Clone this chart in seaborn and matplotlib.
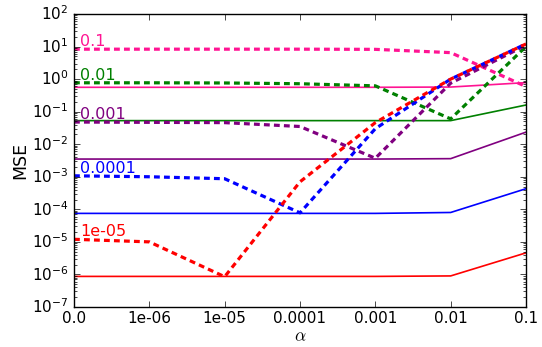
import numpy as np
import seaborn as sns
import matplotlib
matplotlib.use("Agg")
import matplotlib.pyplot as plt
from matplotlib.ticker import LogLocator, LogFormatterSciNotation

# --- DATA ---
alpha_labels = ['0.0', '1e-06', '1e-05', '0.0001', '0.001', '0.01', '0.1']
noise_labels = ['0.1', '0.01', '0.001', '0.0001', '1e-05']
colors = ['#ff1493', 'green', 'purple', 'blue', 'red']

solid_0_1 = [0.56, 0.56, 0.56, 0.56, 0.56, 0.57, 0.78]
dashed_0_1 = [8.3, 8.3, 8.3, 8.3, 8.2, 6.5, 0.59]
solid_0_01 = [0.053, 0.053, 0.053, 0.053, 0.053, 0.053, 0.16]
dashed_0_01 = [0.77, 0.77, 0.76, 0.72, 0.62, 0.06, 10.0]
solid_0_001 = [0.0035, 0.0035, 0.0035, 0.0035, 0.0035, 0.0036, 0.0235]
dashed_0_001 = [0.048, 0.047, 0.046, 0.035, 0.0037, 0.75, 11.0]
solid_1e4 = [7.5e-5, 7.5e-5, 7.5e-5, 7.5e-5, 7.5e-5, 8.0e-5, 4.3e-4]
dashed_1e4 = [1.07e-3, 1.0e-3, 8.7e-4, 7.8e-5, 0.03, 1.0, 12.0]
solid_1e5 = [8.7e-7, 8.7e-7, 8.7e-7, 8.7e-7, 8.7e-7, 9.0e-7, 4.6e-6]
dashed_1e5 = [1.2e-5, 1.0e-5, 8.5e-7, 7.0e-4, 0.046, 1.0, 12.0]

solid_series = [solid_0_1, solid_0_01, solid_0_001, solid_1e4, solid_1e5]
dashed_series = [dashed_0_1, dashed_0_01, dashed_0_001, dashed_1e4, dashed_1e5]

# --- STYLE ---
plt.style.use('classic')
plt.rcParams['font.size'] = 11
plt.rcParams['figure.facecolor'] = 'white'
plt.rcParams['savefig.facecolor'] = 'white'

pos = np.arange(len(alpha_labels))

fig = plt.figure(figsize=(5.42, 3.47), dpi=100)
ax = fig.add_axes([0.1365, 0.1153, 0.834, 0.8444])

for lab, c, sol, das in zip(noise_labels, colors, solid_series, dashed_series):
    sns.lineplot(x=pos, y=sol, ax=ax, color=c, linewidth=1.2)
    sns.lineplot(x=pos, y=das, ax=ax, color=c, linewidth=2.3)
    ax.lines[-1].set_dashes((4.2, 3.0))
    ax.text(0.08, das[0], lab, color=c, fontsize=11.5, ha='left', va='bottom')

ax.set_yscale('log')
ax.set_ylim(1e-7, 1e2)
ax.set_xlim(0, len(alpha_labels) - 1)
ax.yaxis.set_major_locator(LogLocator(base=10, numticks=20))
ax.yaxis.set_major_formatter(LogFormatterSciNotation())
ax.yaxis.set_minor_locator(LogLocator(base=10, subs=np.arange(2, 10), numticks=20))
ax.set_xticks(pos)
ax.set_xticklabels(alpha_labels)
ax.tick_params(axis='x', pad=3)
ax.set_xlabel(r'$\alpha$', fontsize=12.5, labelpad=1)
ax.set_ylabel('MSE', fontsize=12.5, labelpad=2)

fig.savefig('out.png', dpi=100)
